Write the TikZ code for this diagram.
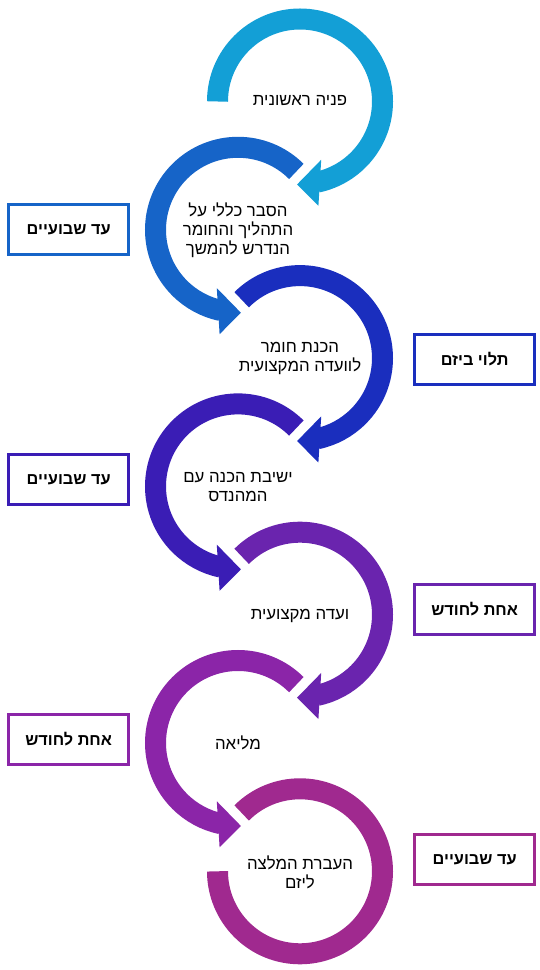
\documentclass[tikz,border=0pt]{standalone}
\usepackage{fontspec}
\setmainfont{Liberation Sans}
\newfontfamily\heb[Script=Hebrew]{Liberation Sans}
\TeXXeTstate=1
\usetikzlibrary{calc}
\definecolor{cA}{RGB}{19,159,214}
\definecolor{cB}{RGB}{22,100,200}
\definecolor{cC}{RGB}{26,46,190}
\definecolor{cD}{RGB}{58,29,181}
\definecolor{cE}{RGB}{106,36,174}
\definecolor{cF}{RGB}{139,37,168}
\definecolor{cG}{RGB}{160,41,143}
\newcommand\ringcw[3]{%
  \draw[band,#3] ($(#1)+(#2:82.5)$) arc[start angle=#2, end angle=-78, radius=82.5];
  \fill[#3] ($(#1)+(-70:62)$) -- ($(#1)+(-92:83)$) -- ($(#1)+(-80:106)$) -- cycle;}
\newcommand\ringccw[2]{%
  \draw[band,#2] ($(#1)+(45:82.5)$) arc[start angle=45, end angle=258, radius=82.5];
  \fill[#2] ($(#1)+(250:62)$) -- ($(#1)+(272:83)$) -- ($(#1)+(260:106)$) -- cycle;}
\begin{document}
\begin{tikzpicture}[x=1pt,y=1pt,
  band/.style={line width=21pt},
  steptext/.style={font=\heb\fontsize{16.8}{19}\selectfont, align=center, text=black},
  timebox/.style={draw, line width=3pt, minimum width=119.7pt, minimum height=50.3pt,
    font=\heb\bfseries\fontsize{16.3}{18}\selectfont, text=black, inner sep=0pt}]
\useasboundingbox (0,0) rectangle (540,970);
\coordinate (c1) at (300,868.5);
\coordinate (c2) at (238,740.2);
\coordinate (c3) at (300,611.9);
\coordinate (c4) at (238,483.6);
\coordinate (c5) at (300,355.3);
\coordinate (c6) at (238,227);
\coordinate (c7) at (300,98.7);
\ringcw{c1}{180}{cA}
\ringccw{c2}{cB}
\ringcw{c3}{135}{cC}
\ringccw{c4}{cD}
\ringcw{c5}{135}{cE}
\ringccw{c6}{cF}
\draw[band,cG] ($(c7)+(135:82.5)$) arc[start angle=135, end angle=-180, radius=82.5];
\node[steptext] (t1) at (300,869) {\beginR פניה ראשונית\endR};
\node[steptext] (t2) at (238,740) {\beginR הסבר כללי על\endR\\\beginR התהליך והחומר\endR\\\beginR הנדרש להמשך\endR};
\node[steptext] (t3) at (300,611.5) {\beginR הכנת חומר\endR\\\beginR לוועדה המקצועית\endR};
\node[steptext] (t4) at (238,482.5) {\beginR ישיבת הכנה עם\endR\\\beginR המהנדס\endR};
\node[steptext] (t5) at (300,354) {\beginR ועדה מקצועית\endR};
\node[steptext] (t6) at (238,227) {\beginR מליאה\endR};
\node[steptext] (t7) at (300,97.5) {\beginR העברת המלצה\endR\\\beginR ליזם\endR};
\node[timebox, draw=cB] (b1) at (68.65,740.7) {\beginR עד שבועיים\endR};
\node[timebox, draw=cC] (b2) at (474.65,610.4) {\beginR תלוי ביזם\endR};
\node[timebox, draw=cD] (b3) at (68.65,490.7) {\beginR עד שבועיים\endR};
\node[timebox, draw=cE] (b4) at (474.65,360.7) {\beginR אחת לחודש\endR};
\node[timebox, draw=cF] (b5) at (68.65,230.7) {\beginR אחת לחודש\endR};
\node[timebox, draw=cG] (b6) at (474.65,110.4) {\beginR עד שבועיים\endR};
\end{tikzpicture}
\end{document}
